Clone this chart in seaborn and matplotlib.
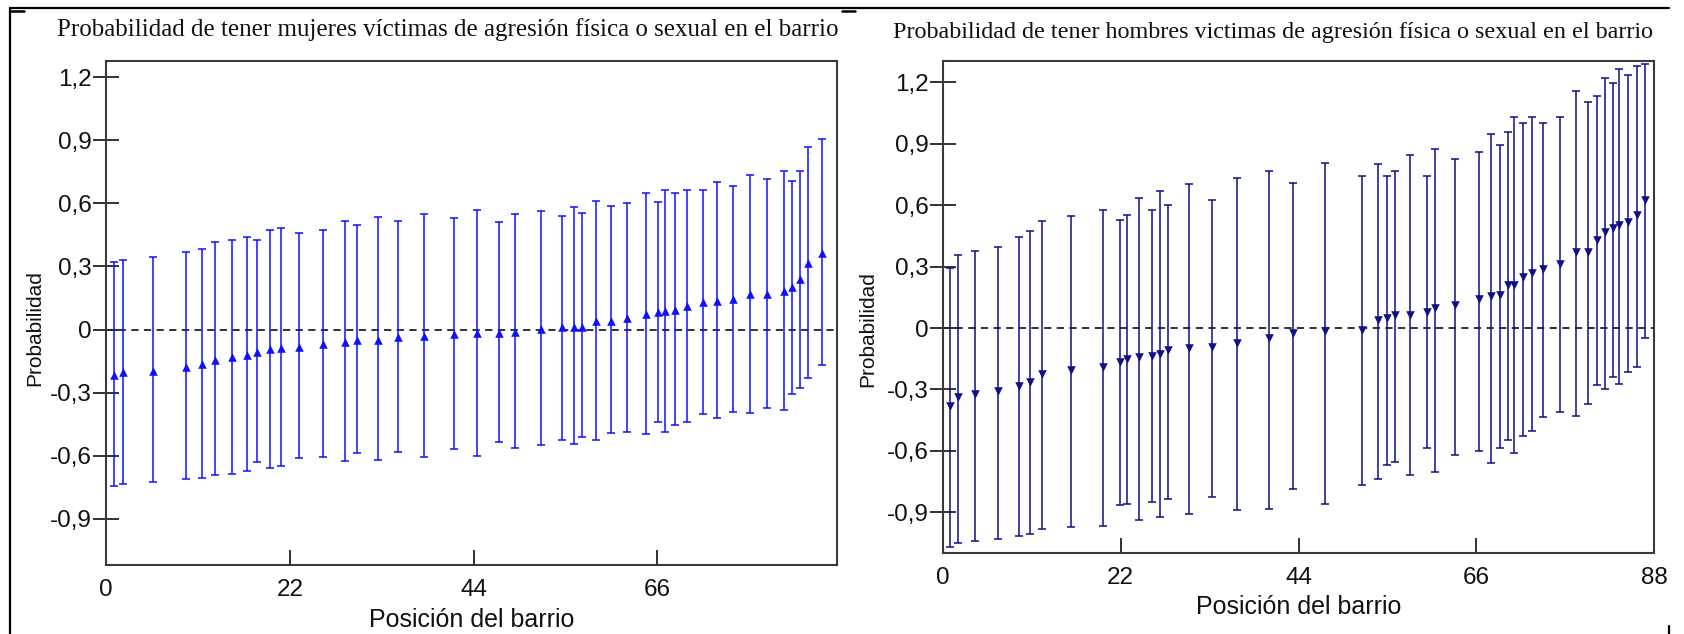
import numpy as np
import pandas as pd
import matplotlib
matplotlib.use("Agg")
import matplotlib.pyplot as plt
from matplotlib.lines import Line2D
import seaborn as sns

# ---------------- data ----------------
# Left panel: women
pos_m = [1.0, 2.0, 5.6, 9.6, 11.5, 13.0, 15.05, 16.9, 18.1, 19.6, 21.0, 23.1, 26.0, 28.6,
         30.0, 32.6, 35.0, 38.1, 41.6, 44.4, 47.1, 48.9, 52.1, 54.6, 56.0, 57.0, 58.6, 60.5,
         62.4, 64.6, 66.05, 66.95, 68.1, 69.6, 71.5, 73.1, 75.0, 77.1, 79.1, 81.2, 82.1, 83.1,
         84.0, 85.7]
est_m = [-0.216, -0.204, -0.197, -0.177, -0.165, -0.146, -0.133, -0.120, -0.108, -0.095,
         -0.089, -0.081, -0.070, -0.060, -0.049, -0.049, -0.036, -0.030, -0.022, -0.017,
         -0.017, -0.013, 0.002, 0.010, 0.014, 0.013, 0.041, 0.041, 0.054, 0.073, 0.081,
         0.087, 0.094, 0.111, 0.130, 0.136, 0.143, 0.168, 0.168, 0.181, 0.200, 0.238,
         0.314, 0.364]
low_m = [-0.742, -0.735, -0.727, -0.710, -0.704, -0.691, -0.685, -0.672, -0.632, -0.659,
         -0.647, -0.613, -0.607, -0.626, -0.588, -0.620, -0.582, -0.607, -0.569, -0.601,
         -0.537, -0.563, -0.550, -0.525, -0.544, -0.512, -0.525, -0.493, -0.487, -0.499,
         -0.442, -0.487, -0.455, -0.442, -0.404, -0.422, -0.391, -0.398, -0.371, -0.384,
         -0.307, -0.276, -0.231, -0.168]
up_m = [0.319, 0.331, 0.344, 0.369, 0.384, 0.414, 0.428, 0.441, 0.428, 0.474,
        0.485, 0.460, 0.474, 0.518, 0.498, 0.536, 0.518, 0.548, 0.531, 0.569,
        0.512, 0.548, 0.563, 0.542, 0.582, 0.556, 0.613, 0.588, 0.601, 0.647,
        0.607, 0.664, 0.651, 0.664, 0.664, 0.702, 0.683, 0.735, 0.716, 0.754,
        0.708, 0.754, 0.870, 0.906]

# Right panel: men
pos_h = [0.9, 1.9, 3.9, 6.85, 9.37, 10.8, 12.3, 15.8, 19.85, 21.9, 22.8, 24.2, 25.9, 26.8,
         27.8, 30.4, 33.3, 36.4, 40.4, 43.3, 47.3, 51.9, 53.8, 54.9, 55.9, 57.8, 59.85,
         60.9, 63.4, 66.4, 67.8, 68.9, 69.9, 70.7, 71.8, 72.85, 74.3, 76.4, 78.3, 79.8,
         80.9, 81.9, 82.9, 83.7, 84.8, 85.85, 86.9]
est_h = [-0.381, -0.339, -0.324, -0.308, -0.282, -0.265, -0.223, -0.207, -0.191, -0.166,
         -0.150, -0.142, -0.134, -0.125, -0.107, -0.099, -0.091, -0.073, -0.049, -0.024,
         -0.015, -0.010, 0.039, 0.047, 0.065, 0.064, 0.081, 0.098, 0.114, 0.140, 0.156,
         0.164, 0.212, 0.212, 0.248, 0.270, 0.288, 0.313, 0.373, 0.373, 0.428, 0.471,
         0.487, 0.503, 0.520, 0.552, 0.627]
low_h = [-1.072, -1.049, -1.041, -1.031, -1.016, -1.007, -0.980, -0.974, -0.966, -0.866,
         -0.858, -0.940, -0.849, -0.923, -0.834, -0.909, -0.827, -0.891, -0.884, -0.785,
         -0.860, -0.769, -0.736, -0.669, -0.653, -0.720, -0.588, -0.702, -0.619, -0.603,
         -0.661, -0.586, -0.546, -0.611, -0.528, -0.503, -0.436, -0.412, -0.428, -0.371,
         -0.280, -0.296, -0.239, -0.272, -0.213, -0.191, -0.049]
up_h = [0.295, 0.355, 0.379, 0.394, 0.446, 0.472, 0.521, 0.546, 0.578, 0.529,
        0.552, 0.637, 0.578, 0.668, 0.603, 0.704, 0.627, 0.735, 0.767, 0.710,
        0.809, 0.743, 0.801, 0.743, 0.767, 0.844, 0.743, 0.875, 0.824, 0.858,
        0.950, 0.893, 0.958, 1.033, 1.000, 1.033, 1.000, 1.033, 1.158, 1.107,
        1.132, 1.221, 1.197, 1.264, 1.238, 1.280, 1.288]

ytick_vals = [-0.9, -0.6, -0.3, 0.0, 0.3, 0.6, 0.9, 1.2]
ytick_labels = ["-0,9", "-0,6", "-0,3", "0", "0,3", "0,6", "0,9", "1,2"]
xtick_vals_m = [0, 22, 44, 66]
xtick_vals_h = [0, 22, 44, 66, 88]

title_m = "Probabilidad de tener mujeres víctimas de agresión física o sexual en el barrio"
title_h = "Probabilidad de tener hombres victimas de agresión física o sexual en el barrio"
xlabel = "Posición del barrio"
ylabel = "Probabilidad"

# ---------------- style ----------------
sns.set_theme(style="white")
plt.rcParams["font.family"] = ["Liberation Sans", "DejaVu Sans"]
plt.rcParams["axes.unicode_minus"] = False

W, H = 1684, 634
fig = plt.figure(figsize=(W / 100, H / 100), dpi=100)
fig.patch.set_facecolor("white")

def px_axes(l, r, t, b):
    return [l / W, 1 - b / H, (r - l) / W, (b - t) / H]

ax_m = fig.add_axes(px_axes(106, 837, 61, 565))
ax_h = fig.add_axes(px_axes(943, 1654, 61, 553))

def panel(ax, pos, est, low, up, color, marker, xlim, ylim, xticks, ylab_xy, xlab_y):
    df = pd.DataFrame({"pos": pos, "est": est, "low": low, "up": up})
    ax.axhline(0, color="#222222", lw=1.3, ls=(0, (4, 3)), zorder=1)
    ax.errorbar(df["pos"], df["est"],
                yerr=[df["est"] - df["low"], df["up"] - df["est"]],
                fmt="none", ecolor=color, elinewidth=1.1, capsize=2.6, capthick=1.1,
                zorder=2)
    sns.scatterplot(data=df, x="pos", y="est", marker=marker, color=color, s=38,
                    linewidth=0, ax=ax, zorder=3, legend=False)
    ax.set_xlim(*xlim)
    ax.set_ylim(*ylim)
    ax.set_xticks(xticks)
    ax.set_xticklabels([str(v) for v in xticks])
    ax.set_yticks(ytick_vals)
    ax.set_yticklabels(ytick_labels)
    for s in ax.spines.values():
        s.set_visible(True)
        s.set_color("#3a3a3a")
        s.set_linewidth(1.5)
    ax.tick_params(axis="y", direction="inout", length=19, width=1.3, color="#222222",
                   pad=1.0, labelsize=17.5, labelcolor="#111111", left=True)
    ax.tick_params(axis="x", direction="in", length=11, width=1.3, color="#222222",
                   pad=10, labelsize=17.5, labelcolor="#111111", bottom=True)
    ax.set_xlabel(xlabel, fontsize=18, color="#111111")
    ax.set_ylabel(ylabel, fontsize=15, color="#111111")
    ax.yaxis.set_label_coords(*ylab_xy)
    ax.xaxis.set_label_coords(0.5, xlab_y)
    ax.xaxis.label.set_va("top")
    ax.grid(False)

panel(ax_m, pos_m, est_m, low_m, up_m, "#1010ff", "^", (0, 87.5), (-1.12, 1.277),
      xtick_vals_m, (-0.084, 0.47), -0.086)
panel(ax_h, pos_h, est_h, low_h, up_h, "#101088", "v", (0, 88), (-1.099, 1.305),
      xtick_vals_h, (-0.093, 0.455), -0.086)

# titles
fig.text(448 / W, 1 - 36 / H, title_m, ha="center", va="baseline", fontsize=18,
         family=["Liberation Serif", "DejaVu Serif"], color="#111111")
fig.text(1273 / W, 1 - 38 / H, title_h, ha="center", va="baseline", fontsize=17.4,
         family=["Liberation Serif", "DejaVu Serif"], color="#111111")

# outer frame lines of the original composite
def fline(x0, y0, x1, y1, lw=1.6):
    fig.add_artist(Line2D([x0 / W, x1 / W], [1 - y0 / H, 1 - y1 / H], color="black",
                          lw=lw, transform=fig.transFigure))

fline(10, 7.5, 1669, 7.5)
fline(10, 7.5, 10, 634)
fline(1669, 626, 1669, 634)
fline(10, 10.5, 24, 10.5, lw=1.8)
fline(842, 10.5, 855, 10.5, lw=1.8)

fig.savefig("out.png", dpi=100, facecolor="white")
